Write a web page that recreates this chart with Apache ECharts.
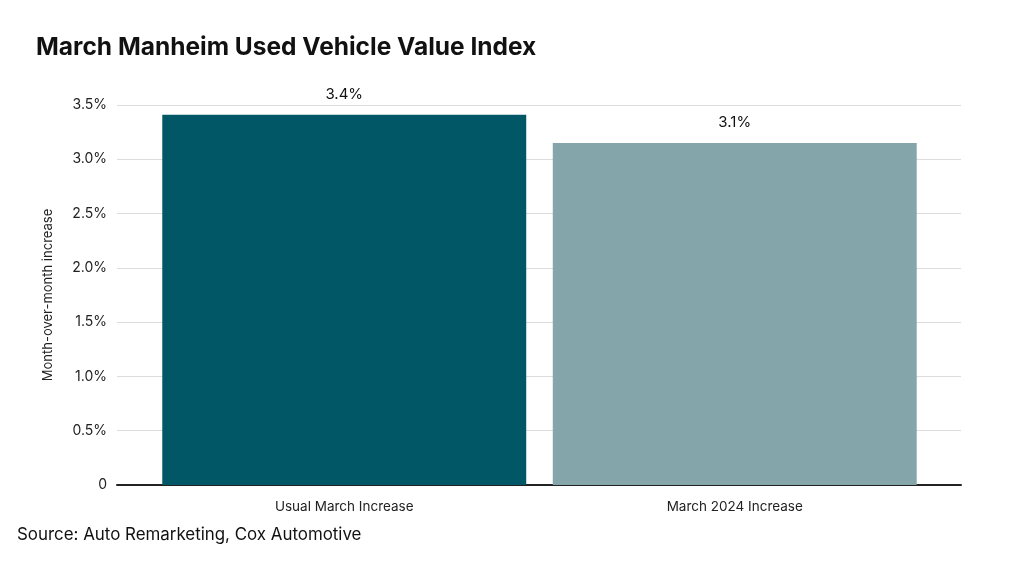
<!DOCTYPE html>
<html>
<head>
<meta charset="utf-8">
<script src="https://cdn.jsdelivr.net/npm/echarts@6/dist/echarts.min.js"></script>
<style>
  html, body { margin: 0; padding: 0; background: #fff; }
  #chart { width: 1024px; height: 565px; }
</style>
</head>
<body>
<div id="chart"></div>
<script>
// data
var categories = ['Usual March Increase', 'March 2024 Increase'];
var values = [3.41, 3.15];
var valueLabels = ['3.4%', '3.1%'];
var barColors = ['#025766', '#84a5aa'];
var yTicks = [0, 0.5, 1, 1.5, 2, 2.5, 3, 3.5];

var chart = echarts.init(document.getElementById('chart'));

var fontFamily = 'Inter, "Noto Sans", sans-serif';

function tickLabel(v) {
  return v === 0 ? '0' : v.toFixed(1) + '%';
}

var option = {
  animation: false,
  textStyle: { fontFamily: fontFamily },
  title: [{
    text: 'March Manheim Used Vehicle Value Index',
    left: 31,
    top: 30,
    textStyle: { fontSize: 24.5, fontWeight: 'bold', color: '#111', fontFamily: fontFamily }
  }, {
    text: 'Source: Auto Remarketing, Cox Automotive',
    left: 12,
    top: 521,
    textStyle: { fontSize: 16.9, fontWeight: 'normal', color: '#111', fontFamily: fontFamily }
  }],
  grid: [
    // grid 0: gridlines, y labels and base line across full width
    { left: 117, right: 63, top: 105, bottom: 80 },
    // grid 1: bars and category labels
    { left: 149, right: 94, top: 105, bottom: 80 }
  ],
  xAxis: [{
    gridIndex: 0,
    type: 'category',
    data: categories,
    axisLine: { lineStyle: { color: '#222', width: 2 } },
    axisTick: { show: false },
    axisLabel: { show: false }
  }, {
    gridIndex: 1,
    type: 'category',
    data: categories,
    axisLine: { show: false },
    axisTick: { show: false },
    axisLabel: { color: '#222', fontSize: 13.5, margin: 15 }
  }],
  yAxis: [{
    gridIndex: 0,
    type: 'value',
    min: 0,
    max: yTicks[yTicks.length - 1],
    interval: 0.5,
    name: 'Month-over-month increase',
    nameLocation: 'middle',
    nameGap: 62,
    nameTextStyle: { fontSize: 13, color: '#222' },
    axisLine: { show: false },
    axisTick: { show: false },
    axisLabel: { color: '#222', fontSize: 14, margin: 10, formatter: tickLabel },
    splitLine: { lineStyle: { color: '#dcdcdc', width: 1 } }
  }, {
    gridIndex: 1,
    type: 'value',
    min: 0,
    max: yTicks[yTicks.length - 1],
    interval: 0.5,
    show: false
  }],
  series: [{
    type: 'bar',
    xAxisIndex: 1,
    yAxisIndex: 1,
    barCategoryGap: '6.8%',
    data: values.map(function (v, i) {
      return { value: v, itemStyle: { color: barColors[i] } };
    }),
    label: {
      show: true,
      position: 'top',
      distance: 13,
      fontSize: 15,
      color: '#111',
      formatter: function (p) { return valueLabels[p.dataIndex]; }
    }
  }]
};

chart.setOption(option);
</script>
</body>
</html>
